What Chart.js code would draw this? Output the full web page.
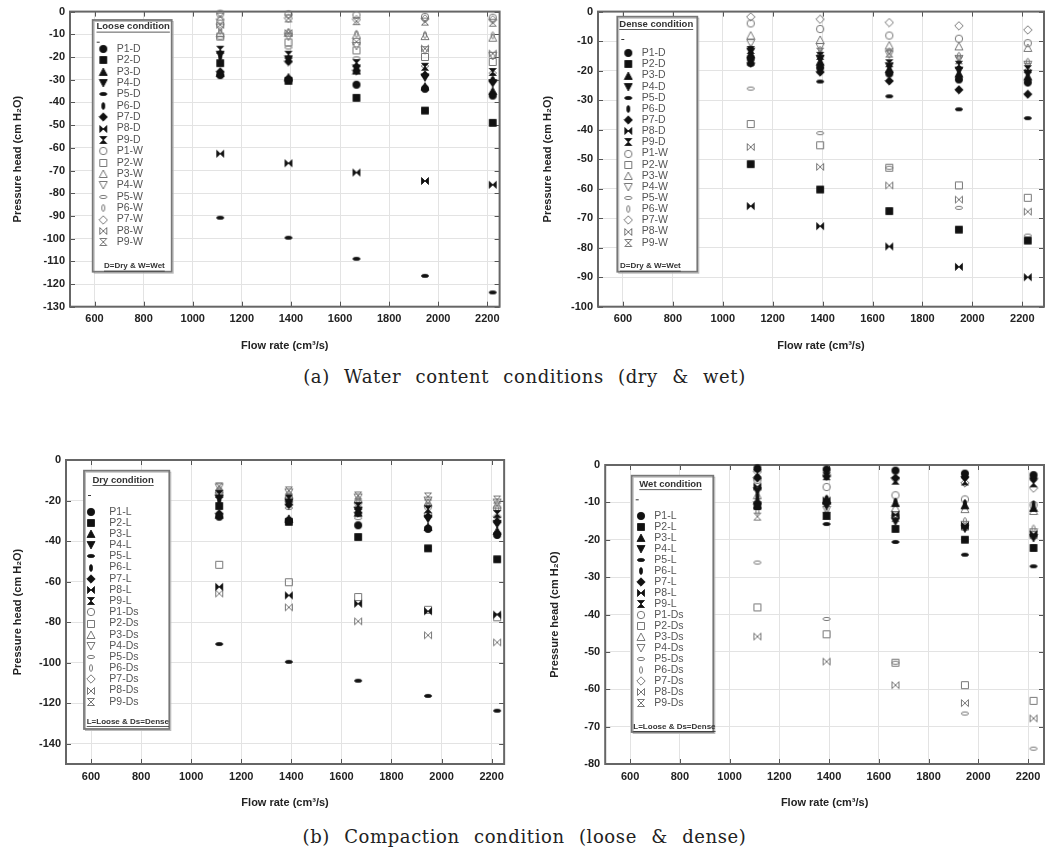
<!DOCTYPE html>
<html lang="en">
<head>
  <meta charset="UTF-8">
  <title>Pressure head vs flow rate</title>
  <script src="https://cdn.jsdelivr.net/npm/chart.js"></script>
  <style>
    body { margin: 0; background: #fff; width: 1049px; height: 853px; position: relative; overflow: hidden; }
    canvas { position: absolute; }
    .cap {
      position: absolute; left: 0; width: 1049px; text-align: center;
      font-family: 'DejaVu Serif', 'Liberation Serif', serif; font-size: 18px; color: #222;
      word-spacing: 8px; letter-spacing: 0.6px;
    }
  </style>
</head>
<body>
  <canvas id="cTL" style="left:0;top:0" width="510" height="360"></canvas>
  <canvas id="cTR" style="left:530px;top:0" width="519" height="360"></canvas>
  <canvas id="cBL" style="left:0;top:445px" width="510" height="380"></canvas>
  <canvas id="cBR" style="left:530px;top:445px" width="519" height="380"></canvas>
  <div class="cap" style="top:366px">(a) Water content conditions (dry &amp; wet)</div>
  <div class="cap" style="top:826px">(b) Compaction condition (loose &amp; dense)</div>

  <script>
    // flow rates (cm3/s) shared by every series
    var flowRate = [1112, 1390, 1667, 1946, 2222];
    var pointNames = ['P1', 'P2', 'P3', 'P4', 'P5', 'P6', 'P7', 'P8', 'P9'];

    // pressure head (cm H2O), one row per point P1..P9
    var looseDry = [
      [-28.0, -30.0, -32.2, -34.0, -37.0],
      [-22.7, -30.5, -38.0, -43.6, -49.0],
      [-27.0, -29.0, -26.0, -33.0, -35.0],
      [-19.0, -21.0, -25.0, -29.0, -31.5],
      [-90.8, -99.6, -108.9, -116.4, -123.7],
      [-20.0, -21.5, -24.0, -28.0, -30.0],
      [-26.5, -22.0, -26.0, -28.0, -30.7],
      [-62.6, -66.8, -70.9, -74.6, -76.3],
      [-16.8, -19.0, -22.7, -24.3, -26.6]
    ];
    var looseWet = [
      [-0.9, -1.2, -1.5, -2.3, -2.7],
      [-11.0, -13.6, -17.1, -20.0, -22.2],
      [-9.5, -9.3, -10.2, -10.8, -11.5],
      [-7.0, -11.0, -15.1, -17.0, -19.5],
      [-11.5, -15.8, -20.6, -24.0, -27.1],
      [-8.4, -9.0, -9.8, -10.2, -10.5],
      [-3.5, -3.0, -3.5, -3.2, -3.6],
      [-5.8, -9.5, -13.3, -16.3, -18.5],
      [-2.2, -3.0, -4.2, -4.4, -4.9]
    ];
    var denseDry = [
      [-16.0, -19.0, -21.0, -23.0, -24.0],
      [-51.7, -60.3, -67.6, -73.9, -77.6],
      [-14.5, -17.0, -19.5, -21.0, -22.0],
      [-13.5, -16.0, -18.5, -20.0, -21.0],
      [-18.0, -23.7, -28.7, -33.1, -36.1],
      [-15.0, -18.0, -20.0, -22.5, -24.0],
      [-17.5, -20.5, -23.5, -26.5, -28.0],
      [-65.9, -72.7, -79.6, -86.5, -90.0],
      [-13.0, -15.0, -17.5, -18.0, -19.5]
    ];
    var denseWet = [
      [-4.0, -5.9, -8.1, -9.2, -10.7],
      [-38.1, -45.3, -52.9, -58.9, -63.1],
      [-8.1, -9.6, -11.5, -11.8, -12.3],
      [-10.7, -12.0, -14.5, -16.0, -18.0],
      [-26.1, -41.2, -52.9, -66.5, -75.9],
      [-12.5, -13.0, -13.5, -15.0, -17.0],
      [-1.8, -2.6, -3.7, -4.8, -6.2],
      [-45.9, -52.6, -58.9, -63.7, -67.8],
      [-13.8, -13.6, -14.2, -16.5, -18.7]
    ];

    // tick labels
    var xTicks = [600, 800, 1000, 1200, 1400, 1600, 1800, 2000, 2200];
    var yTicksTL = [0, -10, -20, -30, -40, -50, -60, -70, -80, -90, -100, -110, -120, -130];
    var yTicksTR = [0, -10, -20, -30, -40, -50, -60, -70, -80, -90, -100];
    var yTicksBL = [0, -20, -40, -60, -80, -100, -120, -140];
    var yTicksBR = [0, -10, -20, -30, -40, -50, -60, -70, -80];

    // marker shapes for P1..P9
    var shapes = ['circle', 'square', 'triUp', 'triDown', 'ellH', 'ellV', 'diamond', 'bowtie', 'hourglass'];

    function makeMarker(shape, filled) {
      var c = document.createElement('canvas');
      c.width = 10; c.height = 10;
      var g = c.getContext('2d');
      g.beginPath();
      switch (shape) {
        case 'circle': g.arc(5, 5, 3.7, 0, Math.PI * 2); break;
        case 'square': g.rect(1.5, 1.5, 7, 7); break;
        case 'triUp': g.moveTo(5, 1); g.lineTo(9, 8.5); g.lineTo(1, 8.5); g.closePath(); break;
        case 'triDown': g.moveTo(1, 1.5); g.lineTo(9, 1.5); g.lineTo(5, 9); g.closePath(); break;
        case 'ellH': g.ellipse(5, 5, 3.6, 1.6, 0, 0, Math.PI * 2); break;
        case 'ellV': g.ellipse(5, 5, 1.5, 3.4, 0, 0, Math.PI * 2); break;
        case 'diamond': g.moveTo(5, 0.8); g.lineTo(9.2, 5); g.lineTo(5, 9.2); g.lineTo(0.8, 5); g.closePath(); break;
        case 'bowtie':
          g.moveTo(1.5, 1.5); g.lineTo(5, 5); g.lineTo(1.5, 8.5); g.closePath();
          g.moveTo(8.5, 1.5); g.lineTo(5, 5); g.lineTo(8.5, 8.5); g.closePath();
          break;
        case 'hourglass':
          g.moveTo(1.5, 1.5); g.lineTo(8.5, 1.5); g.lineTo(5, 5); g.closePath();
          g.moveTo(1.5, 8.5); g.lineTo(8.5, 8.5); g.lineTo(5, 5); g.closePath();
          break;
      }
      if (filled) {
        g.fillStyle = '#111'; g.fill();
        g.strokeStyle = '#111'; g.lineWidth = 0.8; g.stroke();
      } else {
        g.strokeStyle = '#777'; g.lineWidth = 1; g.stroke();
      }
      return c;
    }

    var filledMarkers = shapes.map(function (s) { return makeMarker(s, true); });
    var openMarkers = shapes.map(function (s) { return makeMarker(s, false); });

    function buildSets(filledRows, filledTag, openRows, openTag) {
      var sets = [];
      filledRows.forEach(function (row, i) {
        sets.push({
          label: pointNames[i] + '-' + filledTag,
          data: flowRate.map(function (x, j) { return { x: x, y: row[j] }; }),
          pointStyle: filledMarkers[i], pointRadius: 4, clip: false
        });
      });
      openRows.forEach(function (row, i) {
        sets.push({
          label: pointNames[i] + '-' + openTag,
          data: flowRate.map(function (x, j) { return { x: x, y: row[j] }; }),
          pointStyle: openMarkers[i], pointRadius: 4, clip: false
        });
      });
      return sets;
    }

    // frame with inward ticks, and the boxed legend
    var boxLegend = {
      id: 'boxLegend',
      beforeDatasetsDraw: function (chart) {
        var ctx = chart.ctx, a = chart.chartArea, sx = chart.scales.x, sy = chart.scales.y;
        ctx.save();
        ctx.strokeStyle = '#555';
        ctx.lineWidth = 1;
        ctx.beginPath();
        sx.ticks.forEach(function (t) {
          var px = Math.round(sx.getPixelForValue(t.value)) + 0.5;
          ctx.moveTo(px, a.top); ctx.lineTo(px, a.top + 5);
          ctx.moveTo(px, a.bottom); ctx.lineTo(px, a.bottom - 5);
        });
        sy.ticks.forEach(function (t) {
          var py = Math.round(sy.getPixelForValue(t.value)) + 0.5;
          ctx.moveTo(a.left, py); ctx.lineTo(a.left + 5, py);
          ctx.moveTo(a.right, py); ctx.lineTo(a.right - 5, py);
        });
        ctx.stroke();
        ctx.strokeStyle = '#666';
        ctx.lineWidth = 2;
        ctx.strokeRect(a.left, a.top, a.right - a.left, a.bottom - a.top);
        ctx.restore();
      },
      afterDatasetsDraw: function (chart, args, o) {
        var ctx = chart.ctx;
        ctx.save();
        ctx.fillStyle = '#fff';
        ctx.fillRect(o.x, o.y, o.w, o.h);
        ctx.strokeStyle = '#bbb';
        ctx.lineWidth = 1;
        ctx.strokeRect(o.x + 1.5, o.y + 1.5, o.w, o.h);
        ctx.strokeStyle = '#777';
        ctx.lineWidth = 1.8;
        ctx.strokeRect(o.x, o.y, o.w, o.h);

        ctx.textAlign = 'left';
        ctx.textBaseline = 'middle';
        ctx.fillStyle = '#333';
        ctx.font = 'bold 9.5px "Liberation Sans", Arial, sans-serif';
        ctx.fillText(o.title, o.titleX, o.titleY);
        var tw = ctx.measureText(o.title).width;
        ctx.fillRect(o.titleX, o.titleY + 5, tw, 0.8);
        ctx.fillRect(o.x + 4, o.titleY + 15, 3, 1);

        ctx.font = '10.5px "Liberation Sans", Arial, sans-serif';
        chart.data.datasets.forEach(function (ds, i) {
          var y = o.rowY + i * o.rowStep;
          ctx.drawImage(ds.pointStyle, o.markX - 5, Math.round(y) - 5);
          ctx.fillStyle = '#555';
          ctx.fillText(ds.label, o.textX, y);
        });

        ctx.fillStyle = '#333';
        ctx.font = 'bold 8px "Liberation Sans", Arial, sans-serif';
        ctx.fillText(o.footer, o.footX, o.footY);
        var fw = ctx.measureText(o.footer).width;
        ctx.fillRect(o.footX, o.footY + 4.5, fw, 0.8);
        ctx.restore();
      }
    };

    var tickFont = { family: '"Liberation Sans", Arial, sans-serif', size: 11, weight: 'bold' };

    function makeChart(id, sets, yTicks, yMin, xMax, pad, yW, xH, legend) {
      var ctx = document.getElementById(id).getContext('2d');
      return new Chart(ctx, {
        type: 'scatter',
        data: { datasets: sets },
        plugins: [boxLegend],
        options: {
          responsive: false,
          animation: false,
          layout: { padding: pad },
          plugins: {
            legend: { display: false },
            tooltip: { enabled: false },
            boxLegend: legend
          },
          scales: {
            x: {
              type: 'linear', min: 500, max: xMax,
              afterBuildTicks: function (s) { s.ticks = xTicks.map(function (v) { return { value: v }; }); },
              afterFit: function (s) { s.height = xH; },
              grid: { color: '#e3e3e3', drawTicks: false },
              border: { display: false },
              ticks: { font: tickFont, color: '#222', padding: 6, maxRotation: 0,
                callback: function (v) { return String(v); } },
              title: { display: true, text: 'Flow rate (cm³/s)', font: tickFont, color: '#222', padding: 0 }
            },
            y: {
              type: 'linear', min: yMin, max: 0,
              afterBuildTicks: function (s) { s.ticks = yTicks.map(function (v) { return { value: v }; }); },
              afterFit: function (s) { s.width = yW; },
              grid: { color: '#e3e3e3', drawTicks: false },
              border: { display: false },
              ticks: { font: tickFont, color: '#222', padding: 5,
                callback: function (v) { return String(v); } },
              title: { display: true, text: 'Pressure head (cm H₂O)', font: tickFont, color: '#222', padding: 0 }
            }
          }
        }
      });
    }

    makeChart('cTL', buildSets(looseDry, 'D', looseWet, 'W'), yTicksTL, -130, 2250,
      { left: 11.4, right: 10.4, top: 10, bottom: 7.4 }, 58.6, 45.9,
      { x: 92.7, y: 20, w: 79, h: 251.7, title: 'Loose condition', titleX: 96.5, titleY: 26.7,
        rowY: 49, rowStep: 11.37, markX: 103.3, textX: 116.7,
        footer: 'D=Dry & W=Wet', footX: 104, footY: 266.2 });

    makeChart('cTR', buildSets(denseDry, 'D', denseWet, 'W'), yTicksTR, -100, 2287,
      { left: 11.4, right: 1, top: 7.3, bottom: 7.4 }, 56.6, 45.9,
      { x: 87.3, y: 16.7, w: 80, h: 255, title: 'Dense condition', titleX: 89.3, titleY: 24,
        rowY: 53.3, rowStep: 11.14, markX: 98.3, textX: 111.7,
        footer: 'D=Dry & W=Wet', footX: 90, footY: 266.2 });

    makeChart('cBL', buildSets(looseDry, 'L', denseDry, 'Ds'), yTicksBL, -150, 2250,
      { left: 11.4, right: 4, top: 15, bottom: 15.4 }, 54.6, 45.6,
      { x: 84, y: 25.7, w: 85.3, h: 258.3, title: 'Dry condition', titleX: 92.5, titleY: 35,
        rowY: 66.7, rowStep: 11.18, markX: 91, textX: 109.3,
        footer: 'L=Loose & Ds=Dense', footX: 86.7, footY: 276.7 });

    makeChart('cBR', buildSets(looseWet, 'L', denseWet, 'Ds'), yTicksBR, -80, 2264,
      { left: 18.4, right: 1, top: 20, bottom: 15.4 }, 56.8, 45.6,
      { x: 101.7, y: 30.7, w: 81.6, h: 256.3, title: 'Wet condition', titleX: 109.3, titleY: 39.3,
        rowY: 71, rowStep: 11.0, markX: 111, textX: 124.3,
        footer: 'L=Loose & Ds=Dense', footX: 103.3, footY: 281.7 });
  </script>
</body>
</html>
